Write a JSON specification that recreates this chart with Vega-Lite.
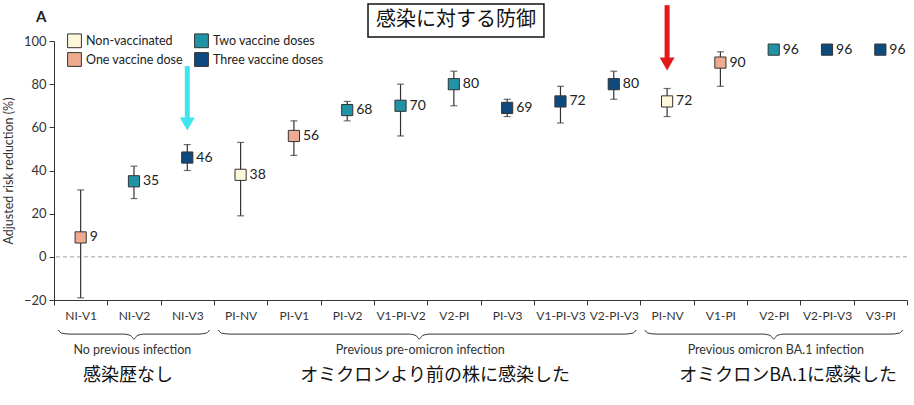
{
  "$schema": "https://vega.github.io/schema/vega-lite/v6.json",
  "width": 853,
  "height": 259,
  "autosize": {"type": "none"},
  "padding": {"left": 54, "top": 41, "right": 7, "bottom": 105},
  "background": "white",
  "datasets": {
    "ve": [
      {"idx": 1, "label": "NI-V1", "dose": "One vaccine dose", "est": 9, "lo": -19, "hi": 31},
      {"idx": 2, "label": "NI-V2", "dose": "Two vaccine doses", "est": 35, "lo": 27, "hi": 42},
      {"idx": 3, "label": "NI-V3", "dose": "Three vaccine doses", "est": 46, "lo": 40, "hi": 52},
      {"idx": 4, "label": "PI-NV", "dose": "Non-vaccinated", "est": 38, "lo": 19, "hi": 53},
      {"idx": 5, "label": "PI-V1", "dose": "One vaccine dose", "est": 56, "lo": 47, "hi": 63},
      {"idx": 6, "label": "PI-V2", "dose": "Two vaccine doses", "est": 68, "lo": 63, "hi": 72},
      {"idx": 7, "label": "V1-PI-V2", "dose": "Two vaccine doses", "est": 70, "lo": 56, "hi": 80},
      {"idx": 8, "label": "V2-PI", "dose": "Two vaccine doses", "est": 80, "lo": 70, "hi": 86},
      {"idx": 9, "label": "PI-V3", "dose": "Three vaccine doses", "est": 69, "lo": 65, "hi": 73},
      {"idx": 10, "label": "V1-PI-V3", "dose": "Three vaccine doses", "est": 72, "lo": 62, "hi": 79},
      {"idx": 11, "label": "V2-PI-V3", "dose": "Three vaccine doses", "est": 80, "lo": 73, "hi": 86},
      {"idx": 12, "label": "PI-NV", "dose": "Non-vaccinated", "est": 72, "lo": 65, "hi": 78},
      {"idx": 13, "label": "V1-PI", "dose": "One vaccine dose", "est": 90, "lo": 79, "hi": 95},
      {"idx": 14, "label": "V2-PI", "dose": "Two vaccine doses", "est": 96, "lo": null, "hi": null},
      {"idx": 15, "label": "V2-PI-V3", "dose": "Three vaccine doses", "est": 96, "lo": null, "hi": null},
      {"idx": 16, "label": "V3-PI", "dose": "Three vaccine doses", "est": 96, "lo": null, "hi": null}
    ],
    "arrows": [
      {"idx": 3, "arrow": "cyan arrow", "top": 88.4, "bot": 63, "head": 61.5},
      {"idx": 12, "arrow": "red arrow", "top": 116.6, "bot": 91, "head": 89.3}
    ],
    "braces": [
      {"grp": "no", "bx": 0.08, "by": -33.9},
      {"grp": "no", "bx": 0.14, "by": -35.3},
      {"grp": "no", "bx": 0.3, "by": -35.8},
      {"grp": "no", "bx": 1.3, "by": -35.8},
      {"grp": "no", "bx": 1.44, "by": -36.5},
      {"grp": "no", "bx": 1.5, "by": -38.1},
      {"grp": "no", "bx": 1.56, "by": -36.5},
      {"grp": "no", "bx": 1.7, "by": -35.8},
      {"grp": "no", "bx": 2.7, "by": -35.8},
      {"grp": "no", "bx": 2.86, "by": -35.3},
      {"grp": "no", "bx": 2.92, "by": -33.9},
      {"grp": "pre", "bx": 3.08, "by": -33.9},
      {"grp": "pre", "bx": 3.14, "by": -35.3},
      {"grp": "pre", "bx": 3.3, "by": -35.8},
      {"grp": "pre", "bx": 6.65, "by": -35.8},
      {"grp": "pre", "bx": 6.79, "by": -36.5},
      {"grp": "pre", "bx": 6.85, "by": -38.1},
      {"grp": "pre", "bx": 6.91, "by": -36.5},
      {"grp": "pre", "bx": 7.05, "by": -35.8},
      {"grp": "pre", "bx": 10.7, "by": -35.8},
      {"grp": "pre", "bx": 10.86, "by": -35.3},
      {"grp": "pre", "bx": 10.92, "by": -33.9},
      {"grp": "omi", "bx": 11.08, "by": -33.9},
      {"grp": "omi", "bx": 11.14, "by": -35.3},
      {"grp": "omi", "bx": 11.3, "by": -35.8},
      {"grp": "omi", "bx": 13.3, "by": -35.8},
      {"grp": "omi", "bx": 13.44, "by": -36.5},
      {"grp": "omi", "bx": 13.5, "by": -38.1},
      {"grp": "omi", "bx": 13.56, "by": -36.5},
      {"grp": "omi", "bx": 13.7, "by": -35.8},
      {"grp": "omi", "bx": 15.7, "by": -35.8},
      {"grp": "omi", "bx": 15.86, "by": -35.3},
      {"grp": "omi", "bx": 15.92, "by": -33.9}
    ],
    "groups": [
      {"gx": 1.47, "en": "No previous infection", "jx": 1.39, "ja": "感染歴なし"},
      {"gx": 6.87, "en": "Previous pre-omicron infection", "jx": 7.15, "ja": "オミクロンより前の株に感染した"},
      {"gx": 13.54, "en": "Previous omicron BA.1 infection", "jx": 13.77, "ja": "オミクロンBA.1に感染した"}
    ],
    "heading": [
      {"x1": 5.89, "x2": 9.19, "y1": 101.9, "y2": 117.2, "xm": 7.54, "ym": 109.5, "text": "感染に対する防御"}
    ],
    "panel": [
      {"px": -0.24, "py": 111.1, "text": "A"}
    ]
  },
  "data": {"name": "ve"},
  "layer": [
    {
      "data": {"values": [{"ref": 0}]},
      "mark": {"type": "rule", "color": "#8a8a8a", "strokeDash": [4, 3], "strokeWidth": 0.8},
      "encoding": {
        "y": {"field": "ref", "type": "quantitative", "scale": {"domain": [-20, 100], "nice": false}, "axis": null}
      }
    },
    {
      "mark": {"type": "rule", "color": "#333", "strokeWidth": 1.2},
      "encoding": {
        "x": {
          "field": "idx", "type": "ordinal",
          "scale": {"type": "band", "domain": [1, 2, 3, 4, 5, 6, 7, 8, 9, 10, 11, 12, 13, 14, 15, 16], "paddingInner": 0, "paddingOuter": 0},
          "axis": {
            "title": null, "labelAngle": 0, "tickBand": "extent",
            "labelExpr": "['NI-V1','NI-V2','NI-V3','PI-NV','PI-V1','PI-V2','V1-PI-V2','V2-PI','PI-V3','V1-PI-V3','V2-PI-V3','PI-NV','V1-PI','V2-PI','V2-PI-V3','V3-PI'][datum.value - 1]",
            "labelFontSize": 12, "labelColor": "#333", "labelPadding": 5, "tickSize": 5,
            "domainColor": "#333", "tickColor": "#333"
          }
        },
        "y": {
          "field": "lo", "type": "quantitative",
          "scale": {"domain": [-20, 100], "nice": false},
          "axis": {
            "title": "Adjusted risk reduction (%)", "values": [-20, 0, 20, 40, 60, 80, 100], "grid": false,
            "labelFontSize": 13, "labelColor": "#333", "tickSize": 5, "labelPadding": 3,
            "domainColor": "#333", "tickColor": "#333",
            "titleFontSize": 12.5, "titleFontWeight": "normal", "titleColor": "#333", "titlePadding": 8
          }
        },
        "y2": {"field": "hi"}
      }
    },
    {
      "mark": {"type": "tick", "color": "#333", "size": 7, "thickness": 1.2},
      "encoding": {
        "x": {"field": "idx", "type": "ordinal", "scale": {"type": "band", "domain": [1, 2, 3, 4, 5, 6, 7, 8, 9, 10, 11, 12, 13, 14, 15, 16], "paddingInner": 0, "paddingOuter": 0}, "axis": null},
        "y": {"field": "lo", "type": "quantitative", "scale": {"domain": [-20, 100], "nice": false}, "axis": null}
      }
    },
    {
      "mark": {"type": "tick", "color": "#333", "size": 7, "thickness": 1.2},
      "encoding": {
        "x": {"field": "idx", "type": "ordinal", "scale": {"type": "band", "domain": [1, 2, 3, 4, 5, 6, 7, 8, 9, 10, 11, 12, 13, 14, 15, 16], "paddingInner": 0, "paddingOuter": 0}, "axis": null},
        "y": {"field": "hi", "type": "quantitative", "scale": {"domain": [-20, 100], "nice": false}, "axis": null}
      }
    },
    {
      "mark": {"type": "square", "filled": true, "size": 125, "stroke": "#333", "strokeWidth": 1, "opacity": 1},
      "encoding": {
        "x": {"field": "idx", "type": "ordinal", "scale": {"type": "band", "domain": [1, 2, 3, 4, 5, 6, 7, 8, 9, 10, 11, 12, 13, 14, 15, 16], "paddingInner": 0, "paddingOuter": 0}, "axis": null},
        "y": {"field": "est", "type": "quantitative", "scale": {"domain": [-20, 100], "nice": false}, "axis": null},
        "color": {
          "field": "dose", "type": "nominal",
          "scale": {
            "domain": ["Non-vaccinated", "One vaccine dose", "Two vaccine doses", "Three vaccine doses"],
            "range": ["#fdf8da", "#efab8f", "#2193a6", "#0f4a7e"]
          },
          "legend": {
            "title": null, "orient": "none", "legendX": 13, "legendY": -8, "columns": 2,
            "symbolType": "square", "symbolSize": 190, "symbolStrokeColor": "#333", "symbolStrokeWidth": 1,
            "labelFontSize": 12.5, "labelColor": "#222", "rowPadding": 0, "columnPadding": 9, "labelOffset": 4
          }
        }
      }
    },
    {
      "mark": {"type": "text", "align": "left", "baseline": "middle", "dx": 9, "fontSize": 14, "color": "#222"},
      "encoding": {
        "x": {"field": "idx", "type": "ordinal", "scale": {"type": "band", "domain": [1, 2, 3, 4, 5, 6, 7, 8, 9, 10, 11, 12, 13, 14, 15, 16], "paddingInner": 0, "paddingOuter": 0}, "axis": null},
        "y": {"field": "est", "type": "quantitative", "scale": {"domain": [-20, 100], "nice": false}, "axis": null},
        "text": {"field": "est"}
      }
    },
    {
      "data": {"name": "arrows"},
      "mark": {"type": "rule", "strokeWidth": 5},
      "encoding": {
        "x": {"field": "idx", "type": "ordinal", "scale": {"type": "band", "domain": [1, 2, 3, 4, 5, 6, 7, 8, 9, 10, 11, 12, 13, 14, 15, 16], "paddingInner": 0, "paddingOuter": 0}, "axis": null},
        "y": {"field": "top", "type": "quantitative", "scale": {"domain": [-20, 100], "nice": false}, "axis": null},
        "y2": {"field": "bot"},
        "color": {"field": "arrow", "type": "nominal", "scale": {"domain": ["cyan arrow", "red arrow"], "range": ["#3fe6f0", "#e31a1c"]}, "legend": null}
      }
    },
    {
      "data": {"name": "arrows"},
      "mark": {"type": "point", "shape": "triangle-down", "filled": true, "size": 225, "opacity": 1},
      "encoding": {
        "x": {"field": "idx", "type": "ordinal", "scale": {"type": "band", "domain": [1, 2, 3, 4, 5, 6, 7, 8, 9, 10, 11, 12, 13, 14, 15, 16], "paddingInner": 0, "paddingOuter": 0}, "axis": null},
        "y": {"field": "head", "type": "quantitative", "scale": {"domain": [-20, 100], "nice": false}, "axis": null},
        "color": {"field": "arrow", "type": "nominal", "scale": {"domain": ["cyan arrow", "red arrow"], "range": ["#3fe6f0", "#e31a1c"]}, "legend": null}
      }
    },
    {
      "data": {"name": "braces"},
      "mark": {"type": "line", "interpolate": "monotone", "color": "#333", "strokeWidth": 1},
      "encoding": {
        "x": {"field": "bx", "type": "quantitative", "scale": {"domain": [0, 16], "nice": false, "zero": false}, "axis": null},
        "y": {"field": "by", "type": "quantitative", "scale": {"domain": [-20, 100], "nice": false}, "axis": null},
        "detail": {"field": "grp"}
      }
    },
    {
      "data": {"name": "groups"},
      "mark": {"type": "text", "align": "center", "baseline": "middle", "fontSize": 12.5, "color": "#333"},
      "encoding": {
        "x": {"field": "gx", "type": "quantitative", "scale": {"domain": [0, 16], "nice": false, "zero": false}, "axis": null},
        "y": {"datum": -43.2, "type": "quantitative", "scale": {"domain": [-20, 100], "nice": false}, "axis": null},
        "text": {"field": "en"}
      }
    },
    {
      "data": {"name": "groups"},
      "mark": {"type": "text", "align": "center", "baseline": "middle", "fontSize": 18, "font": "Noto Sans CJK JP", "color": "#111"},
      "encoding": {
        "x": {"field": "jx", "type": "quantitative", "scale": {"domain": [0, 16], "nice": false, "zero": false}, "axis": null},
        "y": {"datum": -55.2, "type": "quantitative", "scale": {"domain": [-20, 100], "nice": false}, "axis": null},
        "text": {"field": "ja"}
      }
    },
    {
      "data": {"name": "heading"},
      "mark": {"type": "rect", "fill": "white", "stroke": "#111", "strokeWidth": 1.5},
      "encoding": {
        "x": {"field": "x1", "type": "quantitative", "scale": {"domain": [0, 16], "nice": false, "zero": false}, "axis": null},
        "x2": {"field": "x2"},
        "y": {"field": "y1", "type": "quantitative", "scale": {"domain": [-20, 100], "nice": false}, "axis": null},
        "y2": {"field": "y2"}
      }
    },
    {
      "data": {"name": "heading"},
      "mark": {"type": "text", "align": "center", "baseline": "middle", "fontSize": 20, "font": "Noto Sans CJK JP", "color": "#111"},
      "encoding": {
        "x": {"field": "xm", "type": "quantitative", "scale": {"domain": [0, 16], "nice": false, "zero": false}, "axis": null},
        "y": {"field": "ym", "type": "quantitative", "scale": {"domain": [-20, 100], "nice": false}, "axis": null},
        "text": {"field": "text"}
      }
    },
    {
      "data": {"name": "panel"},
      "mark": {"type": "text", "align": "center", "baseline": "middle", "fontSize": 15, "fontWeight": "bold", "color": "#222"},
      "encoding": {
        "x": {"field": "px", "type": "quantitative", "scale": {"domain": [0, 16], "nice": false, "zero": false}, "axis": null},
        "y": {"field": "py", "type": "quantitative", "scale": {"domain": [-20, 100], "nice": false}, "axis": null},
        "text": {"field": "text"}
      }
    }
  ],
  "resolve": {"scale": {"x": "independent", "y": "independent", "color": "independent"}},
  "config": {
    "view": {"stroke": null},
    "font": "Lato"
  }
}
